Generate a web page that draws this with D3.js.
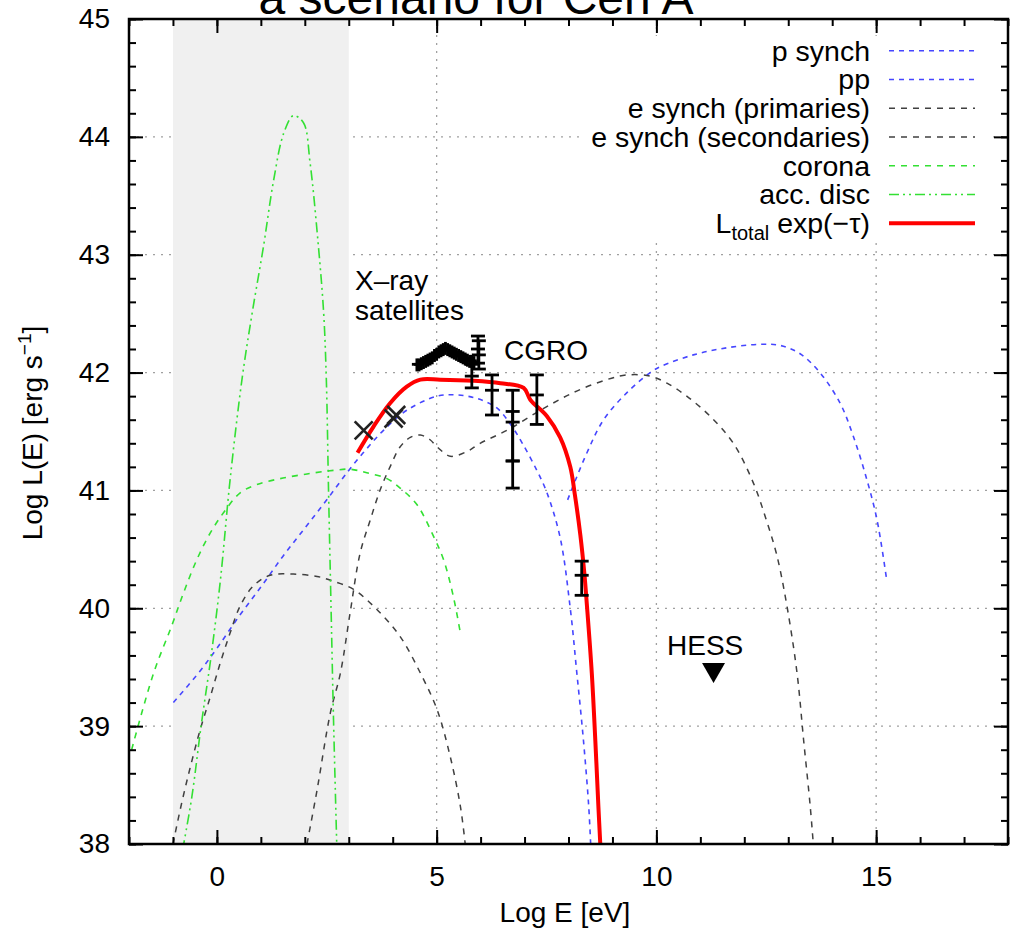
<!DOCTYPE html>
<html><head><meta charset="utf-8">
<script src="https://cdn.jsdelivr.net/npm/d3@7"></script>
<style>
body{margin:0;background:#fff;}
svg{display:block;font-family:"Liberation Sans",Arial,Helvetica,sans-serif;}
</style>
</head><body>
<svg id="c" width="1010" height="934"></svg>
<script>
// ---------------- data ----------------
const titleText = "a scenario for Cen A";
const xTickLabels = [0, 5, 10, 15];
const yTickLabels = [38, 39, 40, 41, 42, 43, 44, 45];

const pSynch = [[-0.99,39.20],[-0.40,39.46],[0.00,39.66],[0.50,39.93],[1.00,40.18],[1.50,40.44],[2.00,40.68],[2.50,40.92],[3.00,41.17],[3.40,41.35],[3.79,41.51],[4.32,41.68],[5.01,41.80],[5.46,41.81],[5.92,41.78],[6.37,41.70],[6.70,41.55],[6.95,41.40],[7.28,41.17],[7.51,40.98],[7.81,40.60],[8.04,40.00],[8.19,39.45],[8.34,38.88],[8.46,38.32],[8.51,37.95]];
const pp = [[7.98,40.92],[8.42,41.32],[8.80,41.60],[9.33,41.83],[9.86,42.00],[10.09,42.05],[10.84,42.15],[11.60,42.21],[12.36,42.24],[12.82,42.23],[13.27,42.16],[13.72,42.00],[14.18,41.74],[14.48,41.46],[14.79,41.09],[15.02,40.75],[15.24,40.24]];
const eSynchPrim = [[-1.00,38.00],[-0.80,38.35],[-0.60,38.66],[-0.38,38.97],[-0.15,39.25],[0.08,39.54],[0.30,39.79],[0.53,40.02],[0.83,40.19],[1.21,40.28],[1.74,40.29],[2.28,40.27],[2.65,40.23],[3.11,40.16],[3.64,39.99],[4.17,39.76],[4.63,39.45],[5.01,39.14],[5.31,38.74],[5.54,38.32],[5.65,38.00]];
const eSynchSec = [[2.05,38.00],[2.28,38.46],[2.58,39.11],[2.81,39.45],[3.03,39.96],[3.26,40.47],[3.49,40.75],[3.72,41.01],[3.94,41.20],[4.17,41.37],[4.40,41.45],[4.63,41.47],[4.85,41.43],[5.01,41.37],[5.31,41.29],[5.69,41.33],[5.99,41.40],[6.60,41.51],[7.36,41.68],[8.11,41.83],[8.87,41.94],[9.33,41.98],[9.86,41.97],[10.24,41.91],[10.69,41.80],[11.22,41.63],[11.75,41.40],[12.21,41.06],[12.50,40.75],[12.74,40.45],[12.97,40.02],[13.20,39.45],[13.35,38.88],[13.50,38.32],[13.57,38.00]];
const corona = [[-1.94,38.80],[-1.44,39.45],[-1.03,39.85],[-0.76,40.13],[-0.46,40.41],[-0.15,40.64],[0.15,40.81],[0.53,40.98],[0.91,41.05],[1.44,41.10],[2.05,41.14],[2.65,41.17],[3.03,41.18],[3.41,41.15],[3.87,41.10],[4.17,41.02],[4.55,40.88],[4.93,40.61],[5.16,40.41],[5.38,40.10],[5.54,39.79]];
const accDisc = [[-0.78,37.95],[-0.57,38.40],[-0.36,39.00],[-0.13,39.60],[0.08,40.24],[0.30,41.09],[0.57,41.94],[0.80,42.50],[1.06,43.07],[1.29,43.63],[1.52,44.03],[1.74,44.18],[1.97,44.12],[2.12,43.78],[2.31,43.07],[2.43,42.50],[2.49,41.94],[2.54,41.00],[2.60,39.96],[2.65,39.11],[2.73,37.95]];
const lTotal = [[3.20,41.32],[3.56,41.54],[3.94,41.74],[4.32,41.88],[4.63,41.94],[5.08,41.94],[5.84,41.93],[6.45,41.91],[6.98,41.87],[7.13,41.77],[7.51,41.63],[7.81,41.45],[8.04,41.20],[8.15,40.95],[8.27,40.62],[8.36,40.30],[8.42,40.02],[8.53,39.45],[8.61,38.88],[8.68,38.32],[8.73,37.95]];

// X-ray satellites (crosses)
const xrayX = [3.34, 4.02, 4.08];
const xrayY = [41.51, 41.61, 41.64];
// X-ray bump points (with small error bars)
const bumpX = [4.55,4.60,4.65,4.70,4.75,4.80,4.85,4.90,4.95,5.00,5.05,5.10,5.15,5.20,5.25,5.30,5.35,5.40,5.45,5.50,5.55,5.60,5.65,5.70,5.75,5.80,5.85];
const bumpY = [42.07,42.07,42.08,42.09,42.10,42.11,42.12,42.13,42.15,42.16,42.18,42.19,42.20,42.21,42.20,42.19,42.18,42.17,42.16,42.15,42.14,42.13,42.12,42.11,42.10,42.10,42.09];
// CGRO error bars
const cgroX  = [5.94, 5.96, 5.80, 6.26, 6.73, 6.73, 7.28, 8.30];
const cgroY  = [42.20, 42.15, 41.97, 41.85, 41.58, 41.25, 41.81, 40.28];
const cgroLo = [42.08, 42.03, 41.87, 41.64, 41.25, 41.02, 41.56, 40.11];
const cgroHi = [42.31, 42.27, 42.07, 41.98, 41.85, 41.67, 41.98, 40.40];
// HESS upper limit
const hessX = [11.3];
const hessY = [39.45];

const legendLabels = ["p synch", "pp", "e synch (primaries)", "e synch (secondaries)", "corona", "acc. disc"];

// ---------------- layout ----------------
const svg = d3.select("#c");
const L = 129, R = 1008, T = 19, B = 844;
const x = d3.scaleLinear().domain([-2, 18]).range([L, R]);
const y = d3.scaleLinear().domain([38, 45]).range([B, T]);

svg.append("defs").append("clipPath").attr("id", "plotclip")
  .append("rect").attr("x", L).attr("y", T).attr("width", R - L).attr("height", B - T);

// title (partially cut by the top of the page, as in the reference)
svg.append("text").attr("x", 476).attr("y", 14).attr("text-anchor", "middle")
  .attr("font-size", 48).text(titleText);

// grid
const grid = svg.append("g").attr("stroke", "#a0a0a0").attr("stroke-width", 1.3)
  .attr("stroke-dasharray", "2,6");
grid.selectAll("line.gy").data(yTickLabels.filter(v => v > 38 && v < 45)).enter().append("line")
  .attr("x1", L).attr("x2", R).attr("y1", d => y(d)).attr("y2", d => y(d));
grid.selectAll("line.gx").data(xTickLabels).enter().append("line")
  .attr("y1", T).attr("y2", B).attr("x1", d => x(d)).attr("x2", d => x(d));

// shaded band
svg.append("rect").attr("x", x(-1)).attr("y", T).attr("width", x(3) - x(-1)).attr("height", B - T)
  .attr("fill", "#f0f0f0");

// legend background (opaque key)
svg.append("rect").attr("x", 582).attr("y", 36).attr("width", 410).attr("height", 204).attr("fill", "#fff");

// curves
const line = d3.line().x(d => x(d[0])).y(d => y(d[1])).curve(d3.curveCatmullRom.alpha(0.5));
const styles = [
  {data: pSynch, color: "#4646ff", dash: "5,5", w: 1.6},
  {data: pp, color: "#4646ff", dash: "5,5", w: 1.6},
  {data: eSynchPrim, color: "#404040", dash: "6,6", w: 1.5},
  {data: eSynchSec, color: "#404040", dash: "6,6", w: 1.5},
  {data: corona, color: "#33e033", dash: "6,6", w: 1.6},
  {data: accDisc, color: "#33e033", dash: "10,4,2,4,2,4", w: 1.6},
  {data: lTotal, color: "#ff0000", dash: null, w: 4}
];
const cg = svg.append("g").attr("clip-path", "url(#plotclip)");
styles.forEach(s => {
  cg.append("path").attr("d", line(s.data)).attr("fill", "none")
    .attr("stroke", s.color).attr("stroke-width", s.w)
    .attr("stroke-dasharray", s.dash).attr("stroke-linejoin", "round");
});

// X-ray bump
const bump = svg.append("g").attr("stroke", "#000").attr("stroke-width", 2.8);
bumpX.forEach((bx, i) => {
  bump.append("line").attr("x1", x(bx) - 5).attr("x2", x(bx) + 5).attr("y1", y(bumpY[i])).attr("y2", y(bumpY[i]));
  bump.append("line").attr("x1", x(bx)).attr("x2", x(bx)).attr("y1", y(bumpY[i] - 0.06)).attr("y2", y(bumpY[i] + 0.05));
});

// X-ray satellites crosses
const xr = svg.append("g").attr("stroke", "#222").attr("stroke-width", 2.6);
xrayX.forEach((xx, i) => {
  const cx = x(xx), cy = y(xrayY[i]), s = 9;
  xr.append("line").attr("x1", cx - s).attr("y1", cy - s).attr("x2", cx + s).attr("y2", cy + s);
  xr.append("line").attr("x1", cx - s).attr("y1", cy + s).attr("x2", cx + s).attr("y2", cy - s);
});

// CGRO error bars
const eb = svg.append("g").attr("stroke", "#000").attr("stroke-width", 2.8);
cgroX.forEach((cx0, i) => {
  const cx = x(cx0), hw = 7;
  eb.append("line").attr("x1", cx).attr("x2", cx).attr("y1", y(cgroLo[i])).attr("y2", y(cgroHi[i]));
  [cgroLo[i], cgroHi[i], cgroY[i]].forEach(v => {
    eb.append("line").attr("x1", cx - hw).attr("x2", cx + hw).attr("y1", y(v)).attr("y2", y(v));
  });
});

// HESS triangle
hessX.forEach((hx, i) => {
  const cx = x(hx), cy = y(hessY[i]);
  svg.append("path").attr("d", `M${cx - 11.5},${cy - 10}L${cx + 11.5},${cy - 10}L${cx},${cy + 10}Z`).attr("fill", "#000");
});

// annotations
const ann = svg.append("g").attr("font-size", 28).attr("fill", "#000");
ann.append("text").attr("x", 355).attr("y", 290).text("X\u2013ray");
ann.append("text").attr("x", 355).attr("y", 320).text("satellites");
ann.append("text").attr("x", 504).attr("y", 360).text("CGRO");
ann.append("text").attr("x", 667).attr("y", 655).text("HESS");

// axes (ticks inward, mirrored)
function styleAxis(g) {
  g.select(".domain").remove();
  g.selectAll(".tick line").attr("stroke", "#000").attr("stroke-width", 2);
  g.selectAll("text").attr("font-size", 28).attr("fill", "#000")
    .attr("font-family", "Liberation Sans, Arial, sans-serif");
}
const xMinor = d3.range(-2, 19, 1);
const yMinor = d3.range(38, 45.001, 0.2);
svg.append("g").attr("transform", `translate(0,${B})`)
  .call(d3.axisBottom(x).tickValues(xMinor).tickSize(-7).tickFormat("")).call(styleAxis);
svg.append("g").attr("transform", `translate(0,${B})`)
  .call(d3.axisBottom(x).tickValues(xTickLabels).tickSize(-14).tickPadding(22).tickFormat(d3.format("d"))).call(styleAxis);
svg.append("g").attr("transform", `translate(0,${T})`)
  .call(d3.axisTop(x).tickValues(xMinor).tickSize(-7).tickFormat("")).call(styleAxis);
svg.append("g").attr("transform", `translate(0,${T})`)
  .call(d3.axisTop(x).tickValues(xTickLabels).tickSize(-14).tickFormat("")).call(styleAxis);
svg.append("g").attr("transform", `translate(${L},0)`)
  .call(d3.axisLeft(y).tickValues(yMinor).tickSize(-7).tickFormat("")).call(styleAxis);
svg.append("g").attr("transform", `translate(${L},0)`)
  .call(d3.axisLeft(y).tickValues(yTickLabels).tickSize(-14).tickPadding(19).tickFormat(d3.format("d"))).call(styleAxis);
svg.append("g").attr("transform", `translate(${R},0)`)
  .call(d3.axisRight(y).tickValues(yMinor).tickSize(-7).tickFormat("")).call(styleAxis);
svg.append("g").attr("transform", `translate(${R},0)`)
  .call(d3.axisRight(y).tickValues(yTickLabels).tickSize(-14).tickFormat("")).call(styleAxis);

// frame
svg.append("rect").attr("x", L).attr("y", T).attr("width", R - L).attr("height", B - T)
  .attr("fill", "none").attr("stroke", "#000").attr("stroke-width", 2.5);

// axis titles
svg.append("text").attr("x", 565).attr("y", 922).attr("text-anchor", "middle").attr("font-size", 28).text("Log E [eV]");
const yl = svg.append("text").attr("transform", "translate(42,433) rotate(-90)").attr("text-anchor", "middle").attr("font-size", 28);
yl.append("tspan").text("Log L(E) [erg s");
yl.append("tspan").attr("font-size", 19).attr("dy", -11).text("\u22121");
yl.append("tspan").attr("dy", 11).text("]");

// legend
const lg = svg.append("g").attr("font-size", 28.5);
const rowY = i => 50.7 + i * 28.75;
styles.forEach((s, i) => {
  const cy = rowY(i);
  const t = lg.append("text").attr("x", 870).attr("y", cy + 10).attr("text-anchor", "end");
  if (i < legendLabels.length) {
    t.text(legendLabels[i]);
  } else {
    t.append("tspan").text("L");
    t.append("tspan").attr("font-size", 20).attr("dy", 7).text("total");
    t.append("tspan").attr("dy", -7).text(" exp(\u2212\u03c4)");
  }
  lg.append("line").attr("x1", 889).attr("x2", 975).attr("y1", cy).attr("y2", cy)
    .attr("stroke", s.color).attr("stroke-width", s.w).attr("stroke-dasharray", s.dash);
});
</script>
</body></html>
